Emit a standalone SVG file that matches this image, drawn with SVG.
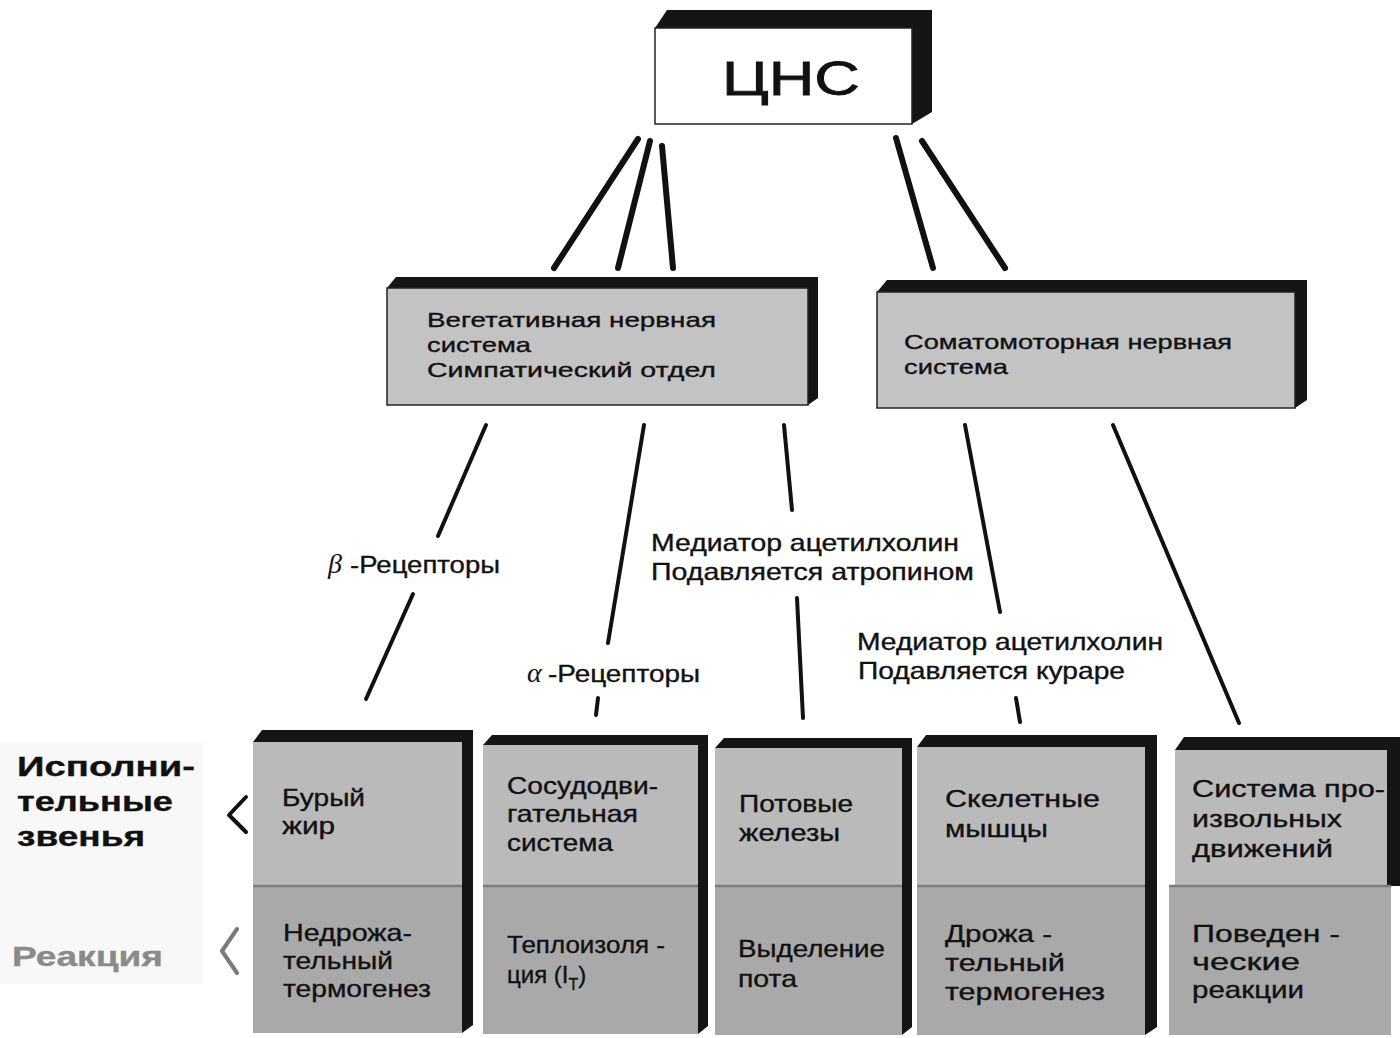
<svg xmlns="http://www.w3.org/2000/svg" width="1400" height="1038" viewBox="0 0 1400 1038">
<style>
  .t { font-family: "Liberation Sans", Arial, sans-serif; fill: #111; stroke: #111; stroke-width: 0.35; }
  .box { font-size: 21px; }
  .lbl { font-size: 24px; }
  .cell { font-size: 24px; }
  .side { font-size: 28px; font-weight: bold; }
  .greek { font-family: "Liberation Serif", "DejaVu Serif", serif; font-style: italic; font-size: 28px; fill: #111; }
  .shadow { fill: #151515; }
  .face { stroke: #222; stroke-width: 1.5; }
  .mid { fill: #c3c3c3; }
  .up { fill: #bababa; }
  .low { fill: #a9a9a9; }
  .div { stroke: #7c7c7c; stroke-width: 2.5; }
  .c1 { stroke: #111; stroke-width: 6; stroke-linecap: round; fill: none; }
  .c2 { stroke: #111; stroke-width: 4; stroke-linecap: round; fill: none; }
  .chev { stroke-width: 4; fill: none; stroke-linecap: round; stroke-linejoin: round; }
</style>
<rect width="1400" height="1038" fill="#ffffff"/>
<rect x="0" y="742" width="203" height="242" fill="#f8f8f8"/>

<g id="connectors">
  <line class="c1" x1="638" y1="139" x2="554" y2="268"/>
  <line class="c1" x1="650" y1="141" x2="618" y2="268"/>
  <line class="c1" x1="662" y1="146" x2="673" y2="268"/>
  <line class="c1" x1="896" y1="138" x2="933" y2="268"/>
  <line class="c1" x1="922" y1="141" x2="1005" y2="268"/>
  <line class="c2" x1="486" y1="425" x2="438" y2="536"/>
  <line class="c2" x1="413" y1="594" x2="366" y2="699"/>
  <line class="c2" x1="644" y1="425" x2="608" y2="643"/>
  <line class="c2" x1="598" y1="698" x2="596" y2="715"/>
  <line class="c2" x1="784" y1="425" x2="792" y2="510"/>
  <line class="c2" x1="797" y1="598" x2="803" y2="718"/>
  <line class="c2" x1="965" y1="425" x2="1000" y2="612"/>
  <line class="c2" x1="1016" y1="698" x2="1020" y2="722"/>
  <line class="c2" x1="1113" y1="425" x2="1239" y2="723"/>
</g>

<g id="cns">
  <polygon class="shadow" points="655,28 667,10 932,10 932,112 912,124 912,28"/>
  <rect class="face" x="655" y="28" width="257" height="96" fill="#ffffff"/>
  <text class="t" x="722" y="95" font-size="48" textLength="138" lengthAdjust="spacingAndGlyphs" style="stroke-width:0.8">ЦНС</text>
</g>

<g id="vegetative">
  <polygon class="shadow" points="387,288 396,277 818,277 818,398 808,405 808,288"/>
  <rect class="face mid" x="387" y="288" width="421" height="117"/>
  <text class="t box" x="427" y="327" textLength="289" lengthAdjust="spacingAndGlyphs">Вегетативная нервная</text>
  <text class="t box" x="427" y="352" textLength="104" lengthAdjust="spacingAndGlyphs">система</text>
  <text class="t box" x="427" y="377" textLength="289" lengthAdjust="spacingAndGlyphs">Симпатический отдел</text>
</g>

<g id="somatomotor">
  <polygon class="shadow" points="877,292 887,280 1307,280 1307,400 1295,408 1295,292"/>
  <rect class="face mid" x="877" y="292" width="418" height="116"/>
  <text class="t box" x="904" y="349" textLength="328" lengthAdjust="spacingAndGlyphs">Соматомоторная нервная</text>
  <text class="t box" x="904" y="374" textLength="104" lengthAdjust="spacingAndGlyphs">система</text>
</g>

<g id="labels">
  <text class="greek" x="328" y="573">β</text>
  <text class="t lbl" x="350" y="573" textLength="150" lengthAdjust="spacingAndGlyphs">-Рецепторы</text>
  <text class="greek" x="527" y="682">α</text>
  <text class="t lbl" x="548" y="682" textLength="152" lengthAdjust="spacingAndGlyphs">-Рецепторы</text>
  <text class="t lbl" x="651" y="551" textLength="308" lengthAdjust="spacingAndGlyphs">Медиатор ацетилхолин</text>
  <text class="t lbl" x="651" y="580" textLength="323" lengthAdjust="spacingAndGlyphs">Подавляется атропином</text>
  <text class="t lbl" x="857" y="650" textLength="306" lengthAdjust="spacingAndGlyphs">Медиатор ацетилхолин</text>
  <text class="t lbl" x="858" y="679" textLength="267" lengthAdjust="spacingAndGlyphs">Подавляется кураре</text>
</g>

<g id="side-labels">
  <text class="t side" x="17" y="776" textLength="178" lengthAdjust="spacingAndGlyphs">Исполни-</text>
  <text class="t side" x="17" y="811" textLength="156" lengthAdjust="spacingAndGlyphs">тельные</text>
  <text class="t side" x="17" y="846" textLength="128" lengthAdjust="spacingAndGlyphs">звенья</text>
  <text class="t side" x="12" y="966" textLength="151" lengthAdjust="spacingAndGlyphs" style="fill:#8a8a8a;stroke:#8a8a8a">Реакция</text>
  <polyline class="chev" points="246,797 229,815 246,832" stroke="#111"/>
  <polyline class="chev" points="237,929 222,951 237,973" stroke="#7a7a7a"/>
</g>

<g id="brown-fat">
  <polygon class="shadow" points="253,742 262,730 473,730 473,1025 462,1033 462,742"/>
  <rect class="up" x="253" y="742" width="209" height="144"/>
  <rect class="low" x="253" y="886" width="209" height="147"/>
  <line class="div" x1="253" y1="886" x2="462" y2="886"/>
  <text class="t cell" x="282" y="806" textLength="83" lengthAdjust="spacingAndGlyphs">Бурый</text>
  <text class="t cell" x="282" y="834" textLength="53" lengthAdjust="spacingAndGlyphs">жир</text>
  <text class="t cell" x="283" y="941" textLength="129" lengthAdjust="spacingAndGlyphs">Недрожа-</text>
  <text class="t cell" x="283" y="969" textLength="110" lengthAdjust="spacingAndGlyphs">тельный</text>
  <text class="t cell" x="283" y="997" textLength="148" lengthAdjust="spacingAndGlyphs">термогенез</text>
</g>

<g id="vasomotor">
  <polygon class="shadow" points="483,745 492,735 708,735 708,1026 698,1034 698,745"/>
  <rect class="up" x="483" y="745" width="215" height="141"/>
  <rect class="low" x="483" y="886" width="215" height="148"/>
  <line class="div" x1="483" y1="886" x2="698" y2="886"/>
  <text class="t cell" x="507" y="794" textLength="151" lengthAdjust="spacingAndGlyphs">Сосудодви-</text>
  <text class="t cell" x="507" y="822" textLength="131" lengthAdjust="spacingAndGlyphs">гательная</text>
  <text class="t cell" x="507" y="851" textLength="106" lengthAdjust="spacingAndGlyphs">система</text>
  <text class="t cell" x="507" y="953" textLength="158" lengthAdjust="spacingAndGlyphs">Теплоизоля -</text>
  <text class="t cell" x="507" y="983">ция  (I<tspan font-size="16" dy="7">T</tspan><tspan dy="-7">)</tspan></text>
</g>

<g id="sweat-glands">
  <polygon class="shadow" points="715,748 724,738 912,738 912,1027 902,1035 902,748"/>
  <rect class="up" x="715" y="748" width="187" height="138"/>
  <rect class="low" x="715" y="886" width="187" height="149"/>
  <line class="div" x1="715" y1="886" x2="902" y2="886"/>
  <text class="t cell" x="739" y="812" textLength="114" lengthAdjust="spacingAndGlyphs">Потовые</text>
  <text class="t cell" x="739" y="841" textLength="101" lengthAdjust="spacingAndGlyphs">железы</text>
  <text class="t cell" x="738" y="957" textLength="147" lengthAdjust="spacingAndGlyphs">Выделение</text>
  <text class="t cell" x="738" y="987" textLength="59" lengthAdjust="spacingAndGlyphs">пота</text>
</g>

<g id="skeletal-muscles">
  <polygon class="shadow" points="917,747 926,735 1157,735 1157,1027 1145,1035 1145,747"/>
  <rect class="up" x="917" y="747" width="228" height="139"/>
  <rect class="low" x="917" y="886" width="228" height="149"/>
  <line class="div" x1="917" y1="886" x2="1145" y2="886"/>
  <text class="t cell" x="945" y="807" textLength="155" lengthAdjust="spacingAndGlyphs">Скелетные</text>
  <text class="t cell" x="945" y="837" textLength="103" lengthAdjust="spacingAndGlyphs">мышцы</text>
  <text class="t cell" x="945" y="942" textLength="107" lengthAdjust="spacingAndGlyphs">Дрожа -</text>
  <text class="t cell" x="945" y="971" textLength="120" lengthAdjust="spacingAndGlyphs">тельный</text>
  <text class="t cell" x="945" y="1000" textLength="160" lengthAdjust="spacingAndGlyphs">термогенез</text>
</g>

<g id="voluntary-movements">
  <polygon class="shadow" points="1175,750 1184,737 1400,737 1400,886 1387,886 1387,750"/>
  <rect class="up" x="1175" y="750" width="212" height="136"/>
  <rect class="low" x="1169" y="886" width="222" height="149"/>
  <line class="div" x1="1169" y1="886" x2="1391" y2="886"/>
  <text class="t cell" x="1192" y="797" textLength="193" lengthAdjust="spacingAndGlyphs">Система про-</text>
  <text class="t cell" x="1192" y="827" textLength="150" lengthAdjust="spacingAndGlyphs">извольных</text>
  <text class="t cell" x="1192" y="857" textLength="141" lengthAdjust="spacingAndGlyphs">движений</text>
  <text class="t cell" x="1192" y="942" textLength="148" lengthAdjust="spacingAndGlyphs">Поведен -</text>
  <text class="t cell" x="1192" y="970" textLength="108" lengthAdjust="spacingAndGlyphs">ческие</text>
  <text class="t cell" x="1192" y="998" textLength="112" lengthAdjust="spacingAndGlyphs">реакции</text>
</g>
</svg>
